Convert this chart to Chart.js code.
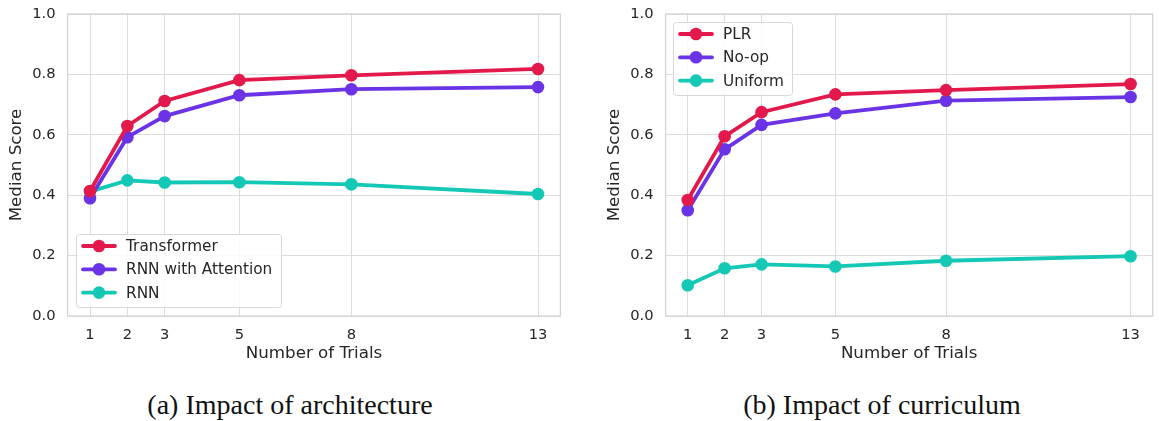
<!DOCTYPE html>
<html>
<head>
<meta charset="utf-8">
<script src="https://cdn.jsdelivr.net/npm/chart.js@4.4.1/dist/chart.umd.min.js"></script>
<style>
  body { margin: 0; background: #fff; width: 1159px; height: 421px; position: relative; overflow: hidden; }
  canvas { position: absolute; top: 0; }
  #chartA { left: 0; }
  #chartB { left: 580px; }
  .cap { position: absolute; top: 389px; line-height: 32px; font-family: 'Liberation Serif', serif; font-size: 28px; color: #111; transform: translateX(-50%); white-space: nowrap; }
</style>
</head>
<body>
<canvas id="chartA" width="580" height="370"></canvas>
<canvas id="chartB" width="579" height="370"></canvas>
<div class="cap" style="left:290px">(a) Impact of architecture</div>
<div class="cap" style="left:882px">(b) Impact of curriculum</div>
<script>
// ----- data -----
const trials = [1, 2, 3, 5, 8, 13];
const yTicks = [0, 0.2, 0.4, 0.6, 0.8, 1.0];

const archLabels = ['Transformer', 'RNN with Attention', 'RNN'];
const transformer = [0.414, 0.629, 0.712, 0.781, 0.797, 0.818];
const rnnAttention = [0.390, 0.592, 0.662, 0.731, 0.751, 0.758];
const rnn = [0.412, 0.449, 0.442, 0.443, 0.436, 0.404];

const currLabels = ['PLR', 'No-op', 'Uniform'];
const plr = [0.384, 0.595, 0.675, 0.734, 0.748, 0.768];
const noop = [0.350, 0.552, 0.633, 0.671, 0.713, 0.725];
const uniform = [0.102, 0.158, 0.171, 0.164, 0.183, 0.198];

const colors = ['#e3194b', '#6a33e6', '#14c8b6'];
const textColor = '#262626';
const gridColor = '#dcdcdc';

// frame round the plot area
const frame = {
    id: 'frame',
    beforeDatasetsDraw(chart) {
        const { ctx, chartArea: a } = chart;
        ctx.save();
        ctx.strokeStyle = '#d4d4d4';
        ctx.lineWidth = 1.3;
        ctx.strokeRect(a.left, a.top, a.right - a.left, a.bottom - a.top);
        ctx.restore();
    }
};

// legend drawn inside the plot, matplotlib style
const boxLegend = {
    id: 'boxLegend',
    afterDraw(chart, args, opts) {
        const ctx = chart.ctx;
        ctx.save();
        ctx.beginPath();
        ctx.roundRect(opts.x + 0.5, opts.y + 0.5, opts.w, opts.h, 3);
        ctx.fillStyle = 'rgba(255,255,255,0.85)';
        ctx.fill();
        ctx.strokeStyle = '#d8d8d8';
        ctx.lineWidth = 1;
        ctx.stroke();
        ctx.font = '15.3px "DejaVu Sans"';
        ctx.textBaseline = 'middle';
        chart.data.datasets.forEach((ds, i) => {
            const cy = opts.y + 12 + i * 23.3;
            ctx.strokeStyle = ds.borderColor;
            ctx.lineWidth = 3.8;
            ctx.lineCap = 'round';
            ctx.beginPath();
            ctx.moveTo(opts.x + 7, cy);
            ctx.lineTo(opts.x + 39, cy);
            ctx.stroke();
            ctx.fillStyle = ds.borderColor;
            ctx.beginPath();
            ctx.arc(opts.x + 23, cy, 6.3, 0, Math.PI * 2);
            ctx.fill();
            ctx.fillStyle = textColor;
            ctx.fillText(ds.label, opts.x + 50, cy + 1);
        });
        ctx.restore();
    }
};

function noPad(s) {
    s.paddingTop = 0; s.paddingBottom = 0; s.paddingLeft = 0; s.paddingRight = 0;
}

function makeChart(id, labels, series, pad, legendBox) {
    const yAxisWidth = pad.plotLeft - pad.left;
    return new Chart(document.getElementById(id), {
        type: 'line',
        data: {
            datasets: series.map((vals, i) => ({
                label: labels[i],
                data: trials.map((t, j) => ({ x: t, y: vals[j] })),
                borderColor: colors[i],
                backgroundColor: colors[i],
                pointBackgroundColor: colors[i],
                pointBorderWidth: 0,
                pointRadius: 6.3,
                borderWidth: 3.8,
                tension: 0
            }))
        },
        options: {
            responsive: false,
            animation: false,
            layout: { padding: { left: pad.left, right: pad.right, top: 14, bottom: 0 } },
            plugins: {
                legend: { display: false },
                tooltip: { enabled: false },
                boxLegend: legendBox
            },
            scales: {
                x: {
                    type: 'linear',
                    min: 0.4,
                    max: 13.6,
                    afterBuildTicks: s => { s.ticks = trials.map(v => ({ value: v })); },
                    afterFit: s => { s.height = 54; noPad(s); },
                    grid: { color: gridColor, lineWidth: 1, drawTicks: false },
                    border: { display: false },
                    ticks: { padding: 10, color: textColor, font: { family: 'DejaVu Sans', size: 14.7 }, callback: v => String(v) },
                    title: { display: true, text: 'Number of Trials', color: textColor, font: { family: 'DejaVu Sans', size: 16.7 }, padding: { top: 0, bottom: 6 } }
                },
                y: {
                    min: 0,
                    max: 1,
                    afterBuildTicks: s => { s.ticks = yTicks.map(v => ({ value: v })); },
                    afterFit: s => { s.width = yAxisWidth; noPad(s); },
                    grid: { color: gridColor, lineWidth: 1, drawTicks: false },
                    border: { display: false },
                    ticks: { padding: 12, color: textColor, font: { family: 'DejaVu Sans', size: 14.7 }, callback: v => v.toFixed(1) },
                    title: { display: true, text: 'Median Score', color: textColor, font: { family: 'DejaVu Sans', size: 16.7 }, padding: 0 }
                }
            }
        },
        plugins: [frame, boxLegend]
    });
}

makeChart('chartA', archLabels, [transformer, rnnAttention, rnn],
    { left: 6.5, plotLeft: 67.6, right: 19.6 },
    { x: 76, y: 234, w: 205, h: 73 });

makeChart('chartB', currLabels, [plr, noop, uniform],
    { left: 25, plotLeft: 85.6, right: 1 },
    { x: 93, y: 22, w: 119, h: 73 });
</script>
</body>
</html>
